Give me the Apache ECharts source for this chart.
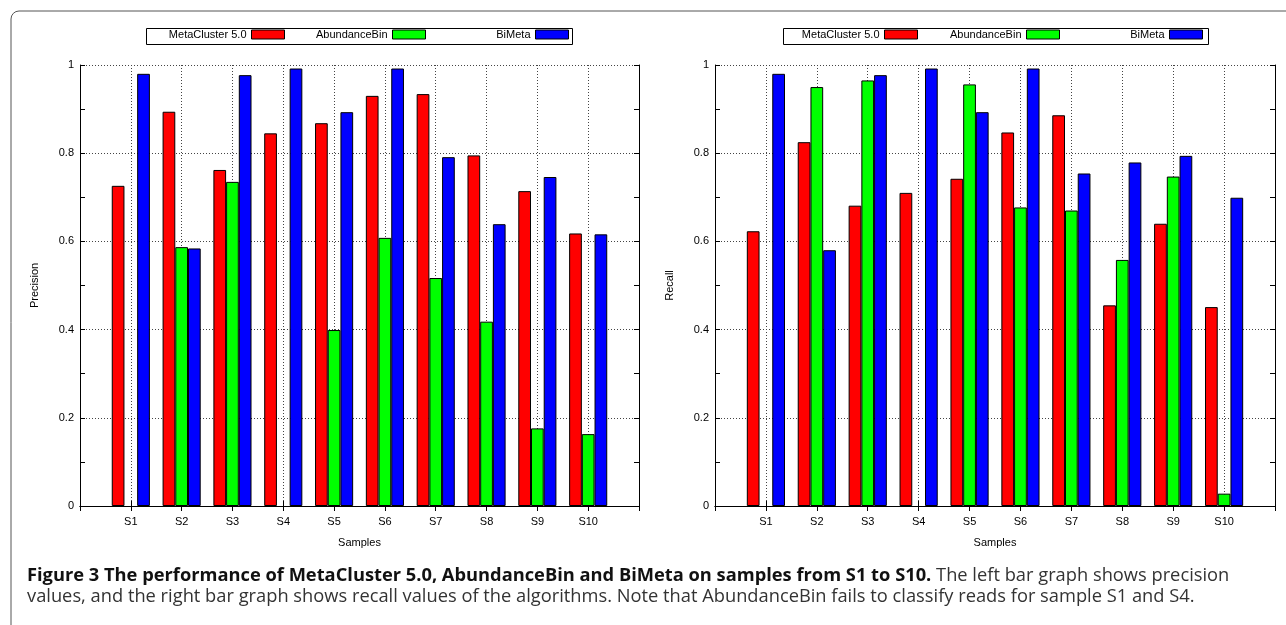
<!DOCTYPE html>
<html>
<head>
<meta charset="utf-8">
<script src="https://cdn.jsdelivr.net/npm/echarts@6/dist/echarts.min.js"></script>
<style>
html, body { margin: 0; padding: 0; background: #fff; }
#main { width: 1286px; height: 625px; }
</style>
</head>
<body>
<div id="main"></div>
<script>
var samples = ['S1', 'S2', 'S3', 'S4', 'S5', 'S6', 'S7', 'S8', 'S9', 'S10'];
var names = ['MetaCluster 5.0', 'AbundanceBin', 'BiMeta'];
var colors = ['#ff0000', '#00ff00', '#0000ff'];

// precision (left graph)
var precMeta = [0.726, 0.894, 0.762, 0.845, 0.868, 0.930, 0.934, 0.795, 0.714, 0.618];
var precAbund = [null, 0.587, 0.735, null, 0.399, 0.608, 0.517, 0.418, 0.176, 0.163];
var precBi = [0.980, 0.584, 0.977, 0.992, 0.893, 0.992, 0.791, 0.639, 0.746, 0.616];

// recall (right graph)
var recMeta = [0.623, 0.825, 0.681, 0.710, 0.742, 0.847, 0.886, 0.455, 0.640, 0.451];
var recAbund = [null, 0.950, 0.965, null, 0.956, 0.677, 0.670, 0.558, 0.747, 0.028];
var recBi = [0.980, 0.580, 0.977, 0.992, 0.893, 0.992, 0.754, 0.779, 0.794, 0.699];

var font = '"Liberation Sans", Arial, sans-serif';
var capFont = '"Open Sans", "Noto Sans", sans-serif';

// gnuplot style x range: one empty slot each side
var cats = [''].concat(samples, ['']);
function pad(arr) {
    return [null].concat(arr, [null]);
}

var dotted = { color: '#444', type: [1, 2], width: 1 };

function xAxes(gi) {
    return [{
        type: 'category', gridIndex: gi, data: cats, boundaryGap: false,
        name: 'Samples', nameLocation: 'middle', nameGap: 31,
        nameTextStyle: { fontFamily: font, fontSize: 11, color: '#000' },
        axisLine: { lineStyle: { color: '#000', width: 1 } },
        axisTick: { inside: true, length: 5, lineStyle: { color: '#000' } },
        axisLabel: { fontFamily: font, fontSize: 11, color: '#000', margin: 10, interval: 0 },
        splitLine: { show: true, lineStyle: dotted }
    }, {
        type: 'category', gridIndex: gi, data: cats, boundaryGap: false, position: 'top',
        axisLine: { lineStyle: { color: '#000', width: 1 } },
        axisTick: { inside: true, length: 5, lineStyle: { color: '#000' } },
        axisLabel: { show: false },
        splitLine: { show: false }
    }];
}

function yAxes(gi, title) {
    return [{
        type: 'value', gridIndex: gi, min: 0, max: 1, interval: 0.2,
        name: title, nameLocation: 'middle', nameGap: 40,
        nameTextStyle: { fontFamily: font, fontSize: 11, color: '#000' },
        axisLine: { show: true, lineStyle: { color: '#000', width: 1 } },
        axisTick: { show: true, inside: true, length: 5, lineStyle: { color: '#000' } },
        minorTick: { show: true, splitNumber: 2, length: 5, lineStyle: { color: '#000' } },
        axisLabel: { fontFamily: font, fontSize: 11, color: '#000', margin: 6 },
        splitLine: { show: true, lineStyle: dotted }
    }, {
        type: 'value', gridIndex: gi, min: 0, max: 1, interval: 0.2, position: 'right',
        axisLine: { show: true, lineStyle: { color: '#000', width: 1 } },
        axisTick: { show: true, inside: true, length: 5, lineStyle: { color: '#000' } },
        minorTick: { show: true, splitNumber: 2, length: 5, lineStyle: { color: '#000' } },
        axisLabel: { show: false },
        splitLine: { show: false }
    }];
}

function barSeries(name, color, data, gi) {
    return {
        type: 'bar', name: name, data: pad(data),
        xAxisIndex: gi * 2, yAxisIndex: gi * 2,
        barWidth: '25%', barGap: '0%',
        itemStyle: { color: color, borderColor: '#000', borderWidth: 1 },
        emphasis: { disabled: true },
        animation: false
    };
}

// legends: right edges of swatches, one set per graph
var legendRight = [1001, 860, 717, 368, 226, 83];
var legends = [];
for (var i = 0; i < 6; i++) {
    legends.push({
        data: [names[i % 3]], right: legendRight[i], top: 29, padding: 0,
        align: 'right', icon: 'rect', itemWidth: 33, itemHeight: 9,
        itemStyle: { borderColor: '#000', borderWidth: 1 },
        textStyle: { fontFamily: font, fontSize: 11, color: '#000' },
        selectedMode: false
    });
}

var myChart = echarts.init(document.getElementById('main'));
var option = {
    backgroundColor: '#fff',
    animation: false,
    color: colors,
    title: {
        left: 27, top: 565, padding: 0,
        text: '{b|Figure 3 The performance of MetaCluster 5.0, AbundanceBin and BiMeta on samples from S1 to S10.}{n| The left bar graph shows precision}\n{n|values, and the right bar graph shows recall values of the algorithms. Note that AbundanceBin fails to classify reads for sample S1 and S4.}',
        textStyle: {
            fontWeight: 'normal',
            rich: {
                b: { fontFamily: capFont, fontWeight: 'bold', fontSize: 18.3, color: '#111', lineHeight: 21 },
                n: { fontFamily: capFont, fontWeight: 'normal', fontSize: 18.3, color: '#333', lineHeight: 21 }
            }
        }
    },
    legend: legends,
    grid: [
        { left: 80, right: 647, top: 65, bottom: 119 },
        { left: 715, right: 11, top: 65, bottom: 119 }
    ],
    xAxis: xAxes(0).concat(xAxes(1)),
    yAxis: yAxes(0, 'Precision').concat(yAxes(1, 'Recall')),
    series: [
        barSeries(names[0], colors[0], precMeta, 0),
        barSeries(names[1], colors[1], precAbund, 0),
        barSeries(names[2], colors[2], precBi, 0),
        barSeries(names[0], colors[0], recMeta, 1),
        barSeries(names[1], colors[1], recAbund, 1),
        barSeries(names[2], colors[2], recBi, 1)
    ],
    graphic: [
        { type: 'rect', shape: { x: 11, y: 11, width: 1300, height: 700, r: 8 }, style: { fill: null, stroke: '#555', lineWidth: 1 }, silent: true },
        { type: 'rect', shape: { x: 146.5, y: 28.5, width: 426, height: 16 }, style: { fill: null, stroke: '#000', lineWidth: 1 }, silent: true },
        { type: 'rect', shape: { x: 783.5, y: 28.5, width: 425, height: 16 }, style: { fill: null, stroke: '#000', lineWidth: 1 }, silent: true }
    ]
};
myChart.setOption(option);
</script>
</body>
</html>
